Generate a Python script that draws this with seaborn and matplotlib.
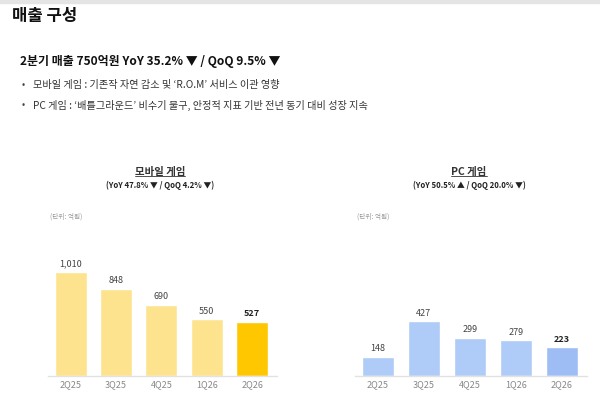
import matplotlib
matplotlib.use("Agg")
import matplotlib.pyplot as plt
import seaborn as sns
import pandas as pd

sns.set_style("white")
plt.rcParams["font.family"] = ["Noto Sans CJK KR", "DejaVu Sans"]

# data
quarters = ["2Q25", "3Q25", "4Q25", "1Q26", "2Q26"]
mobile_sales = [1010, 848, 690, 550, 527]
pc_sales = [148, 427, 299, 279, 223]

mobile_colors = ["#FDE38E", "#FDE38E", "#FDE38E", "#FDE38E", "#FFC700"]
pc_colors = ["#AFCBF7", "#AFCBF7", "#AFCBF7", "#AFCBF7", "#9EBDF4"]

fig = plt.figure(figsize=(6, 4), dpi=100)
W, H = 600, 400


def fx(px):
    return px / W


def fy(py):
    return 1 - py / H


# header
fig.patches.append(plt.Rectangle((0, fy(3)), 1, 3 / H, transform=fig.transFigure,
                                 color="#E4E4E4", zorder=0))
fig.text(fx(12), fy(16), "매출 구성", fontsize=12, fontweight="bold",
         color="#111111", va="center")
fig.text(fx(20), fy(61), "2분기 매출 750억원 YoY 35.2% ▼ / QoQ 9.5% ▼",
         fontsize=8.6, fontweight="bold", color="#111111", va="center")
bullets = [
    "모바일 게임 : 기존작 자연 감소 및 ‘R.O.M’ 서비스 이관 영향",
    "PC 게임 : ‘배틀그라운드’ 비수기 불구, 안정적 지표 기반 전년 동기 대비 성장 지속",
]
for i, b in enumerate(bullets):
    y = 85 + i * 20
    fig.text(fx(22), fy(y), "•", fontsize=7, color="#444444", va="center")
    fig.text(fx(33), fy(y), b, fontsize=7.3, color="#333333", va="center")


def draw_panel(left, right, values, colors, ymax, title, sub, cx):
    ax = fig.add_axes([fx(left), fy(376), fx(right - left), 150 / H])
    df = pd.DataFrame({"quarter": quarters, "sales": values})
    sns.barplot(data=df, x="quarter", y="sales", hue="quarter",
                palette=colors, width=0.7, legend=False, ax=ax, saturation=1)
    ax.set_xlim(-0.5, 4.55)
    ax.set_ylim(0, ymax)
    ax.set_xlabel("")
    ax.set_ylabel("")
    ax.set_yticks([])
    for s in ["top", "left", "right"]:
        ax.spines[s].set_visible(False)
    ax.spines["bottom"].set_color("#E2E2E2")
    ax.spines["bottom"].set_linewidth(1.0)
    ax.tick_params(axis="x", length=0, pad=3, labelsize=6.5, labelcolor="#888888")
    for i, v in enumerate(values):
        last = i == len(values) - 1
        ax.text(i, v + ymax * 0.025, f"{v:,}", ha="center", va="bottom",
                fontsize=6.5, color="#222222" if last else "#444444",
                fontweight="bold" if last else "normal")
    t = fig.text(fx(cx), fy(172), title, fontsize=7.5, fontweight="bold",
                 color="#333333", ha="center", va="center")
    fig.text(fx(cx), fy(185), sub, fontsize=5.6, fontweight="bold",
             color="#222222", ha="center", va="center")
    fig.text(fx(left + 2), fy(217), "(단위: 억원)", fontsize=4.8,
             color="#999999", va="center")
    return t


titles = [
    draw_panel(48, 277, mobile_sales, mobile_colors, 1456, "모바일 게임",
               "(YoY 47.8% ▼ / QoQ 4.2% ▼)", 160),
    draw_panel(355, 587, pc_sales, pc_colors, 1172, "PC 게임",
               "(YoY 50.5% ▲ / QoQ 20.0% ▼)", 469),
]

# underline the panel titles
fig.canvas.draw()
renderer = fig.canvas.get_renderer()
for t in titles:
    bb = t.get_window_extent(renderer).transformed(fig.transFigure.inverted())
    fig.add_artist(plt.Line2D([bb.x0, bb.x1], [bb.y0 + 0.002, bb.y0 + 0.002],
                              transform=fig.transFigure, color="#333333",
                              linewidth=0.6))

fig.savefig("out.png", dpi=100)
